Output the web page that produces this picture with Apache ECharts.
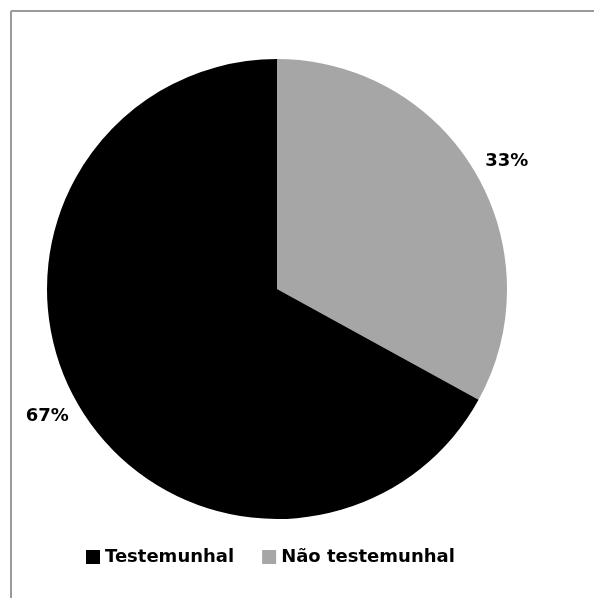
<!DOCTYPE html>
<html>
<head>
<meta charset="utf-8">
<script src="https://cdn.jsdelivr.net/npm/echarts@6/dist/echarts.min.js"></script>
<style>html,body{margin:0;padding:0;background:#fff}#c{width:594px;height:598px}</style>
</head>
<body>
<div id="c"></div>
<script>
const categories = ["Testemunhal", "Não testemunhal"];
const values = [67, 33];
const colors = ["#000000", "#a6a6a6"];

const chart = echarts.init(document.getElementById('c'));
chart.setOption({
  animation: false,
  backgroundColor: '#ffffff',
  graphic: [
    { type: 'line', shape: { x1: 11, y1: 11, x2: 594, y2: 11 }, style: { stroke: '#9a9a9a', lineWidth: 2 } },
    { type: 'line', shape: { x1: 11, y1: 11, x2: 11, y2: 598 }, style: { stroke: '#9a9a9a', lineWidth: 2 } }
  ],
  legend: {
    data: categories,
    left: 81,
    top: 543,
    itemWidth: 14,
    itemHeight: 14,
    itemGap: 28,
    icon: 'rect',
    textStyle: { fontFamily: 'DejaVu Sans', fontWeight: 'bold', fontSize: 18, color: '#000' }
  },
  series: [{
    type: 'pie',
    center: [277, 289],
    radius: 230,
    startAngle: 90,
    clockwise: true,
    avoidLabelOverlap: false,
    data: categories.map((c, i) => ({ name: c, value: values[i], itemStyle: { color: colors[i] } })).reverse(),
    label: {
      show: true,
      position: 'outside',
      formatter: '{c}%',
      fontFamily: 'DejaVu Sans',
      fontWeight: 'bold',
      fontSize: 18,
      color: '#000',
      distanceToLabelLine: -7
    },
    labelLine: { show: false, length: 20, length2: 0 },
    emphasis: { disabled: true }
  }]
});
</script>
</body>
</html>
